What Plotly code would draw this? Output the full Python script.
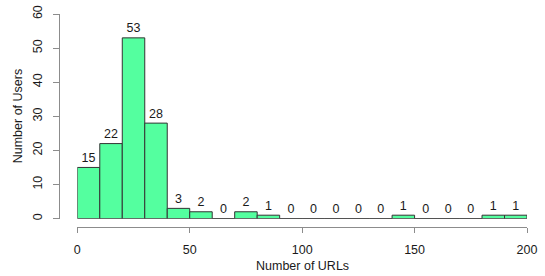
import plotly.graph_objects as go

bin_edges = list(range(0, 210, 10))
counts = [15, 22, 53, 28, 3, 2, 0, 2, 1, 0, 0, 0, 0, 0, 1, 0, 0, 0, 1, 1]
x_ticks = [0, 50, 100, 150, 200]
y_ticks = [0, 10, 20, 30, 40, 50, 60]
x_title = "Number of URLs"
y_title = "Number of Users"

centers = [(a + b) / 2 for a, b in zip(bin_edges[:-1], bin_edges[1:])]
widths = [b - a for a, b in zip(bin_edges[:-1], bin_edges[1:])]

FONT = "Liberation Sans, Arial, sans-serif"
TXT = "#1a1a1a"
AX = "#8c8c8c"

fig = go.Figure()
fig.add_trace(go.Bar(
    x=centers, y=counts, width=widths,
    marker=dict(color="#54FF9F", line=dict(color="#333333", width=1)),
    cliponaxis=False, showlegend=False, hoverinfo="skip",
))
fig.add_trace(go.Scatter(
    x=centers, y=counts, mode="markers+text",
    marker=dict(size=2, opacity=0),
    text=[str(c) for c in counts], textposition="top center",
    textfont=dict(family=FONT, size=12.5, color=TXT),
    cliponaxis=False, showlegend=False, hoverinfo="skip",
))
fig.add_shape(type="line", xref="x", yref="y",
              x0=bin_edges[0], x1=bin_edges[-1], y0=0, y1=0,
              line=dict(color="#333333", width=1))

W, H = 545, 276
l, r, t, b = 59, 18, 14, 49
pw = W - l - r
ph = H - t - b
x_start = (77.3 - l) / pw
y_start = (226.7 - 218.3) / ph

fig.update_layout(
    template="none",
    width=W, height=H,
    margin=dict(l=l, r=r, t=t, b=b, pad=0),
    paper_bgcolor="white", plot_bgcolor="white",
    font=dict(family=FONT, size=12, color=TXT),
    bargap=0,
    hovermode=False,
    xaxis=dict(
        domain=[x_start, 1], range=[bin_edges[0], bin_edges[-1]],
        anchor="free", position=0, automargin=False,
        tickvals=x_ticks, ticktext=[str(v) for v in x_ticks],
        ticks="outside", ticklen=5, tickcolor=AX, tickwidth=1,
        showline=True, linecolor=AX, linewidth=1,
        showgrid=False, zeroline=False,
        tickfont=dict(family=FONT, size=12.5, color=TXT),
        ticklabelstandoff=6,
    ),
    yaxis=dict(
        domain=[y_start, 1], range=[y_ticks[0], y_ticks[-1]],
        anchor="free", position=0, automargin=False,
        tickvals=y_ticks, ticktext=[str(v) for v in y_ticks],
        ticks="outside", ticklen=6, tickcolor=AX, tickwidth=1,
        showline=True, linecolor=AX, linewidth=1,
        showgrid=False, zeroline=False, tickangle=-90,
        tickfont=dict(family=FONT, size=12.5, color=TXT),
        ticklabelstandoff=6,
    ),
    annotations=[
        dict(text=x_title, xref="paper", yref="paper",
             x=(302.3 - l) / pw, y=-(266 - (H - b)) / ph,
             xanchor="center", yanchor="middle", showarrow=False,
             font=dict(family=FONT, size=12.5, color=TXT)),
        dict(text=y_title, xref="paper", yref="paper",
             x=-(l - 18) / pw, y=((H - b) - 116.3) / ph,
             xanchor="center", yanchor="middle", showarrow=False, textangle=-90,
             font=dict(family=FONT, size=12.5, color=TXT)),
    ],
)

fig.write_html(
    "out.html",
    config={"displayModeBar": False, "staticPlot": True},
    post_script="document.body.style.margin='0';document.body.style.overflow='hidden';",
)
